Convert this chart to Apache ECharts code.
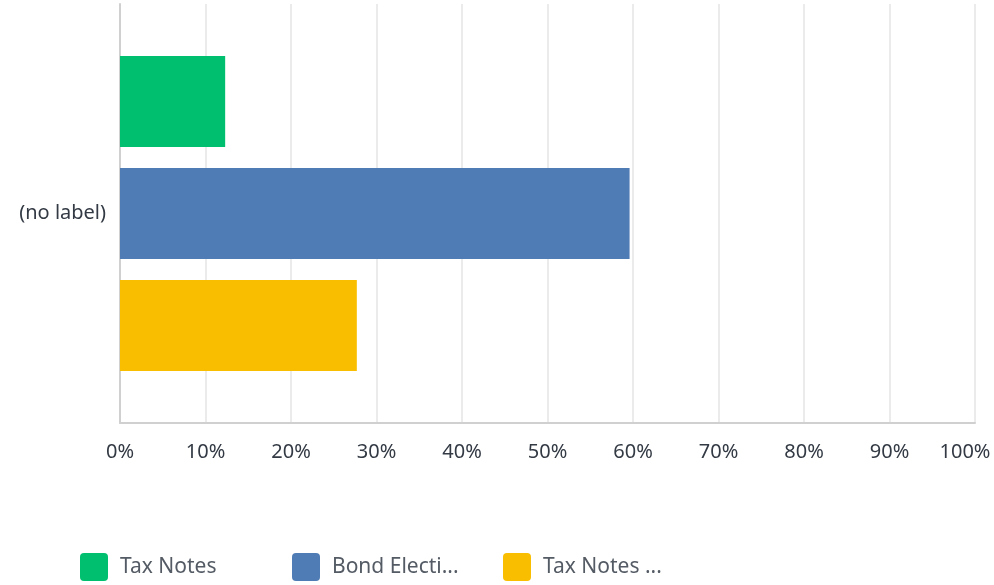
<!DOCTYPE html>
<html>
<head>
<meta charset="utf-8">
<script src="https://cdn.jsdelivr.net/npm/echarts@6/dist/echarts.min.js"></script>
<style>
  html, body { margin: 0; padding: 0; background: #fff; }
  #chart { width: 994px; height: 585px; }
</style>
</head>
<body>
<div id="chart"></div>
<script>
// Answer shares (percent of respondents) for the single question row
const categories = ['(no label)'];
const seriesNames = ['Tax Notes', 'Bond Electi...', 'Tax Notes ...'];
const taxNotes = [12.3];
const bondElection = [59.6];
const taxNotesOther = [27.7];
const xTicks = [0, 10, 20, 30, 40, 50, 60, 70, 80, 90, 100];

const colors = ['#00BF6F', '#507CB6', '#F9BE00'];
const values = [taxNotes, bondElection, taxNotesOther];
const legendLeft = [80, 292, 503];
const FONT = '"Noto Sans", "Open Sans", sans-serif';
const xMax = xTicks[xTicks.length - 1];

const chart = echarts.init(document.getElementById('chart'));
chart.setOption({
  animation: false,
  grid: { left: 120, right: 19, top: 4, bottom: 162, containLabel: false, outerBoundsMode: 'none' },
  legend: seriesNames.map((n, i) => ({
    data: [n],
    left: legendLeft[i],
    top: 553,
    padding: 0,
    itemWidth: 28,
    itemHeight: 28,
    icon: 'path://M4,0 H24 A4,4 0 0 1 28,4 V24 A4,4 0 0 1 24,28 H4 A4,4 0 0 1 0,24 V4 A4,4 0 0 1 4,0 Z',
    textStyle: { fontFamily: FONT, fontSize: 21, color: '#545b64', padding: [2, 0, 0, 7] },
    selectedMode: false
  })),
  xAxis: {
    type: 'value',
    min: xTicks[0],
    max: xMax,
    interval: xTicks[1] - xTicks[0],
    axisLine: { show: true, lineStyle: { color: '#d0d0d0', width: 2 } },
    axisTick: { show: false },
    splitLine: { show: true, lineStyle: { color: '#ebebeb', width: 2 } },
    axisLabel: {
      // keep the last tick label inside the canvas
      formatter: v => (v === xMax ? '{last|' + v + '%}' : v + '%'),
      rich: { last: { fontFamily: FONT, fontSize: 20, color: '#333a44', padding: [0, 20, 0, 0] } },
      fontFamily: FONT, fontSize: 20, color: '#333a44', margin: 19
    }
  },
  yAxis: {
    type: 'category',
    data: categories,
    inverse: true,
    axisLine: { show: true, lineStyle: { color: '#d0d0d0', width: 2 } },
    axisTick: { show: false },
    axisLabel: { fontFamily: FONT, fontSize: 20, color: '#333a44', margin: 14, padding: [4, 0, 0, 0] }
  },
  series: seriesNames.map((n, i) => ({
    name: n,
    type: 'bar',
    data: values[i],
    barWidth: 91,
    barGap: '23%',
    itemStyle: { color: colors[i] }
  }))
});
</script>
</body>
</html>
